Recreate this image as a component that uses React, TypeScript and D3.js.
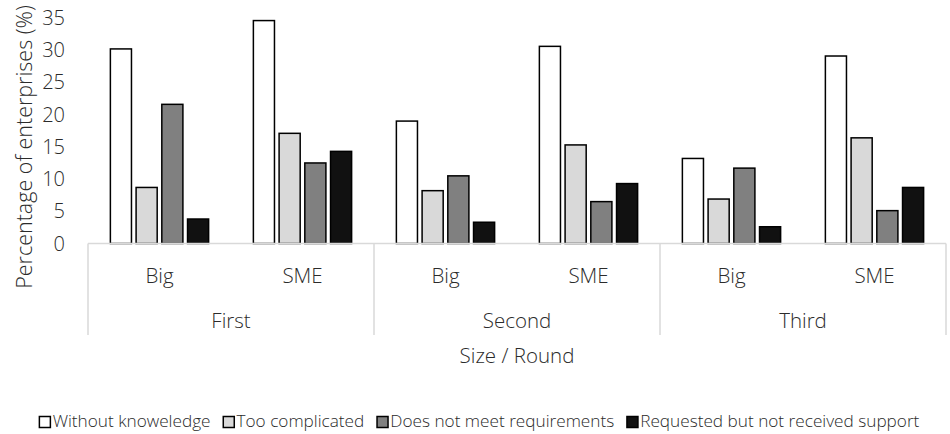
import React, { useEffect, useRef } from "react";
import * as d3 from "d3";

// Survey shares by enterprise size and round
const rounds = ["First", "Second", "Third"];
const sizes = ["Big", "SME"];
const seriesNames = [
  "Without knoweledge",
  "Too complicated",
  "Does not meet requirements",
  "Requested but not received support",
];
const seriesColors = ["#ffffff", "#d9d9d9", "#808080", "#111111"];
// One row per round/size pair, in the order First-Big, First-SME, Second-Big, ...
const withoutKnowledge = [30.2, 34.6, 19.0, 30.6, 13.2, 29.1];
const tooComplicated = [8.7, 17.1, 8.2, 15.3, 6.9, 16.4];
const notMeetRequirements = [21.6, 12.5, 10.5, 6.5, 11.7, 5.1];
const requestedNotReceived = [3.8, 14.3, 3.3, 9.3, 2.6, 8.7];
const yTicks = [0, 5, 10, 15, 20, 25, 30, 35];

const W = 950;
const H = 434;
const FONT = "'Open Sans', 'Noto Sans', sans-serif";
const TEXT = "#2b2b2b";
const LINE = "#d9d9d9";

export default function App() {
  const ref = useRef<SVGSVGElement | null>(null);

  useEffect(() => {
    const svg = d3.select(ref.current);
    svg.selectAll("*").remove();

    const left = 88;
    const right = 946;
    const top = 18;
    const base = 243.5;
    const axisBottom = 335;

    const series = [withoutKnowledge, tooComplicated, notMeetRequirements, requestedNotReceived];
    const cats = rounds.flatMap((r) => sizes.map((s) => `${r}|${s}`));

    const y = d3.scaleLinear().domain([0, 35]).range([base, top]);
    const xCat = d3.scaleBand<string>().domain(cats).range([left, right]).paddingInner(0).paddingOuter(0);
    const xRound = d3.scaleBand<string>().domain(rounds).range([left, right]);
    const xSeries = d3
      .scaleBand<string>()
      .domain(seriesNames)
      .range([0, xCat.bandwidth()])
      .paddingInner(0.18)
      .paddingOuter(0.87);

    const g = svg.append("g").attr("font-family", FONT).attr("font-weight", 300);

    // Y tick labels
    g.selectAll("text.ytick")
      .data(yTicks)
      .join("text")
      .attr("class", "ytick")
      .attr("x", 65)
      .attr("y", (d) => y(d))
      .attr("dy", "0.35em")
      .attr("text-anchor", "end")
      .attr("font-size", 20)
      .attr("fill", TEXT)
      .text((d) => d);

    // Bars
    cats.forEach((c, ci) => {
      const x0 = xCat(c)!;
      series.forEach((vals, si) => {
        const v = vals[ci];
        g.append("rect")
          .attr("x", x0 + xSeries(seriesNames[si])!)
          .attr("y", y(v))
          .attr("width", xSeries.bandwidth())
          .attr("height", y(0) - y(v))
          .attr("fill", seriesColors[si])
          .attr("stroke", "#000")
          .attr("stroke-width", 1.5);
      });
    });

    // Category axis: baseline and group separators
    g.append("line")
      .attr("x1", left)
      .attr("x2", right)
      .attr("y1", base)
      .attr("y2", base)
      .attr("stroke", LINE)
      .attr("stroke-width", 1.5);
    const seps = [left, ...rounds.map((r) => xRound(r)! + xRound.bandwidth())];
    g.selectAll("line.sep")
      .data(seps)
      .join("line")
      .attr("class", "sep")
      .attr("x1", (d) => d)
      .attr("x2", (d) => d)
      .attr("y1", base)
      .attr("y2", axisBottom)
      .attr("stroke", LINE)
      .attr("stroke-width", 1.5);

    // Size labels
    g.selectAll("text.size")
      .data(cats)
      .join("text")
      .attr("class", "size")
      .attr("x", (d) => xCat(d)! + xCat.bandwidth() / 2)
      .attr("y", 283)
      .attr("text-anchor", "middle")
      .attr("font-size", 20.5)
      .attr("fill", TEXT)
      .text((d) => d.split("|")[1]);

    // Round labels
    g.selectAll("text.round")
      .data(rounds)
      .join("text")
      .attr("class", "round")
      .attr("x", (d) => xRound(d)! + xRound.bandwidth() / 2)
      .attr("y", 328)
      .attr("text-anchor", "middle")
      .attr("font-size", 20.5)
      .attr("fill", TEXT)
      .text((d) => d);

    // Axis titles
    g.append("text")
      .attr("x", (left + right) / 2)
      .attr("y", 363)
      .attr("text-anchor", "middle")
      .attr("font-size", 20.5)
      .attr("fill", TEXT)
      .text("Size / Round");

    g.append("text")
      .attr("transform", `translate(32, 147) rotate(-90)`)
      .attr("text-anchor", "middle")
      .attr("font-size", 21.5)
      .attr("fill", TEXT)
      .text("Percentage of enterprises (%)");

    // Legend, laid out from measured text widths and centred
    const legend = g.append("g");
    const sw = 11;
    const gapText = 3;
    const gapItem = 12;
    let cx = 0;
    seriesNames.forEach((name, i) => {
      const item = legend.append("g").attr("transform", `translate(${cx},0)`);
      item
        .append("rect")
        .attr("x", 0.75)
        .attr("y", -sw + 0.5)
        .attr("width", sw)
        .attr("height", sw)
        .attr("fill", seriesColors[i])
        .attr("stroke", "#000")
        .attr("stroke-width", 1.5);
      const t = item
        .append("text")
        .attr("x", sw + gapText)
        .attr("y", 0)
        .attr("font-size", 17.2)
        .attr("fill", TEXT)
        .text(name);
      const tw = (t.node() as SVGTextElement).getComputedTextLength();
      cx += sw + gapText + tw + gapItem;
    });
    const total = cx - gapItem;
    legend.attr("transform", `translate(${479 - total / 2},427)`);
  }, []);

  return (
    <svg
      ref={ref}
      width={W}
      height={H}
      style={{ position: "absolute", left: 0, top: 0, background: "#fff" }}
    />
  );
}
